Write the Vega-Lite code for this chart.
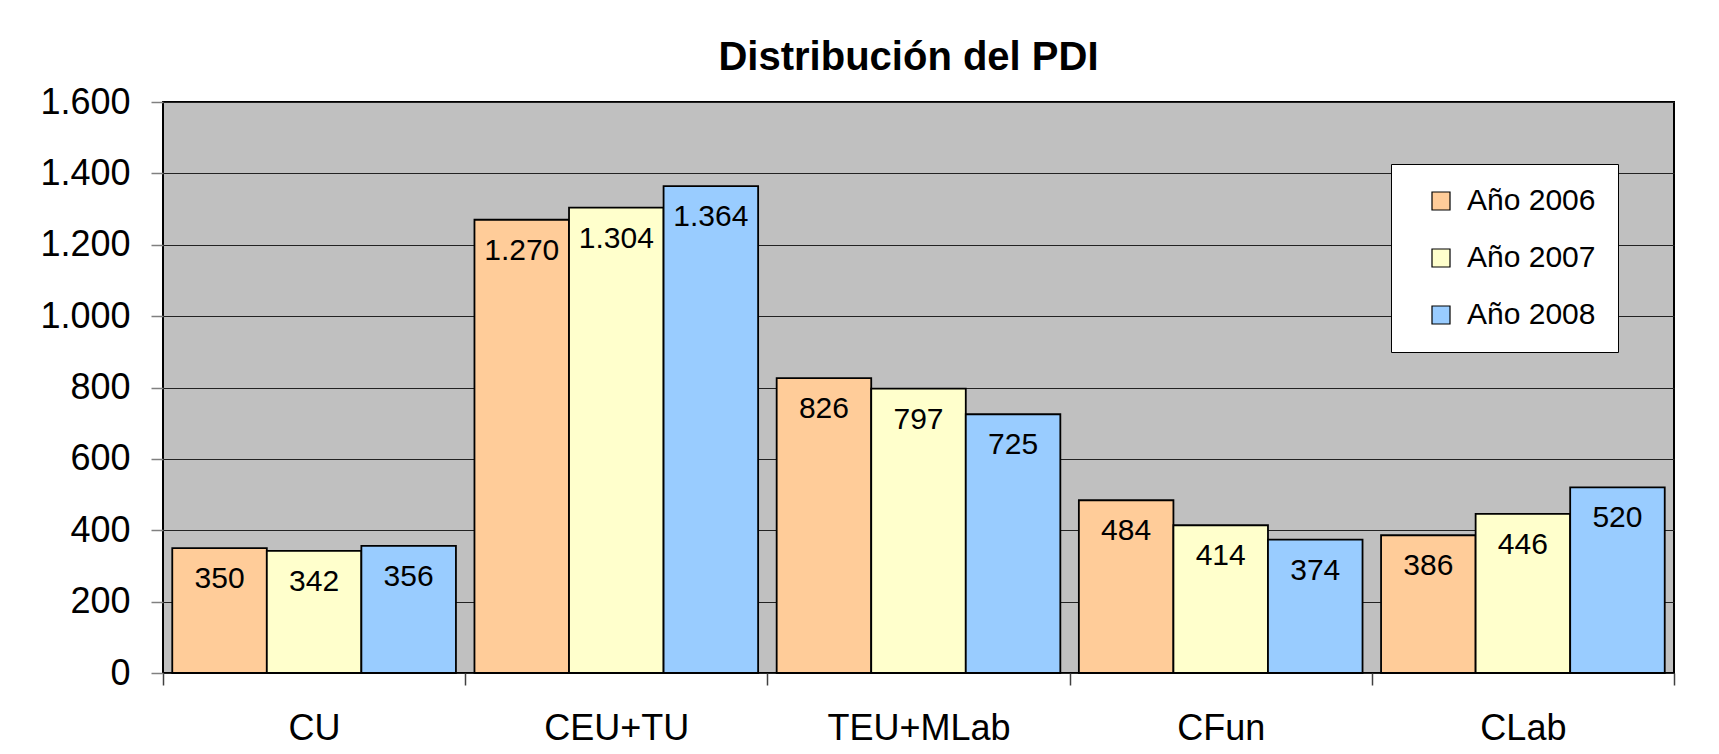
{
  "$schema": "https://vega.github.io/schema/vega-lite/v6.json",
  "autosize": {"type": "none"},
  "width": 1511,
  "height": 571,
  "padding": {"left": 163, "top": 102, "right": 45, "bottom": 81},
  "background": "#ffffff",
  "title": {
    "text": "Distribución del PDI",
    "font": "Liberation Sans",
    "fontSize": 40,
    "fontWeight": "bold",
    "color": "#000000",
    "anchor": "middle",
    "baseline": "alphabetic",
    "offset": 32,
    "dy": 58,
    "dx": -10
  },
  "config": {
    "locale": {"number": {"decimal": ",", "thousands": ".", "grouping": [3], "currency": ["", " €"]}},
    "view": {"fill": "#c0c0c0", "stroke": "#000000", "strokeWidth": 2},
    "font": "Liberation Sans"
  },
  "data": {
    "values": [
      {"cat": "CU", "year": "Año 2006", "value": 350},
      {"cat": "CU", "year": "Año 2007", "value": 342},
      {"cat": "CU", "year": "Año 2008", "value": 356},
      {"cat": "CEU+TU", "year": "Año 2006", "value": 1270},
      {"cat": "CEU+TU", "year": "Año 2007", "value": 1304},
      {"cat": "CEU+TU", "year": "Año 2008", "value": 1364},
      {"cat": "TEU+MLab", "year": "Año 2006", "value": 826},
      {"cat": "TEU+MLab", "year": "Año 2007", "value": 797},
      {"cat": "TEU+MLab", "year": "Año 2008", "value": 725},
      {"cat": "CFun", "year": "Año 2006", "value": 484},
      {"cat": "CFun", "year": "Año 2007", "value": 414},
      {"cat": "CFun", "year": "Año 2008", "value": 374},
      {"cat": "CLab", "year": "Año 2006", "value": 386},
      {"cat": "CLab", "year": "Año 2007", "value": 446},
      {"cat": "CLab", "year": "Año 2008", "value": 520}
    ]
  },
  "encoding": {
    "x": {
      "field": "cat", "type": "nominal", "sort": null,
      "scale": {"paddingInner": 0, "paddingOuter": 0},
      "axis": {
        "title": null, "labelAngle": 0, "labelFontSize": 36, "labelColor": "#000000",
        "labelFont": "Liberation Sans", "labelPadding": 26, "labelLimit": 400,
        "tickBand": "extent", "tickSize": 12, "tickColor": "#404040", "tickWidth": 1.5,
        "domain": false, "grid": false
      }
    },
    "xOffset": {"field": "year", "type": "nominal", "scale": {"paddingInner": 0, "paddingOuter": 0.098}},
    "y": {
      "field": "value", "type": "quantitative",
      "scale": {"domain": [0, 1600], "nice": false},
      "axis": {
        "title": null, "values": [0, 200, 400, 600, 800, 1000, 1200, 1400, 1600],
        "format": ",d", "labelFontSize": 36, "labelColor": "#000000", "labelFont": "Liberation Sans",
        "labelPadding": 21, "tickSize": 12, "tickColor": "#808080", "tickWidth": 1.5,
        "domain": false, "grid": true, "gridColor": "#222222", "gridWidth": 1.2
      }
    }
  },
  "layer": [
    {
      "mark": {"type": "bar", "stroke": "#000000", "strokeWidth": 1.8},
      "encoding": {
        "color": {
          "field": "year", "type": "nominal",
          "scale": {"domain": ["Año 2006", "Año 2007", "Año 2008"], "range": ["#ffcc99", "#ffffcc", "#99ccff"]},
          "legend": {
            "title": null, "orient": "none", "legendX": 1228, "legendY": 62,
            "fillColor": "#ffffff", "strokeColor": "#000000", "padding": 22,
            "symbolType": "square", "symbolSize": 324, "symbolStrokeColor": "#000000", "symbolStrokeWidth": 1.2,
            "symbolOffset": 13, "labelOffset": 11, "labelFontSize": 30, "labelColor": "#000000",
            "labelFont": "Liberation Sans", "rowPadding": 27, "labelLimit": 300
          }
        }
      }
    },
    {
      "mark": {"type": "text", "baseline": "middle", "dy": 31, "fontSize": 30, "color": "#000000", "font": "Liberation Sans"},
      "encoding": {
        "text": {"field": "value", "type": "quantitative", "format": ",d"}
      }
    }
  ]
}
